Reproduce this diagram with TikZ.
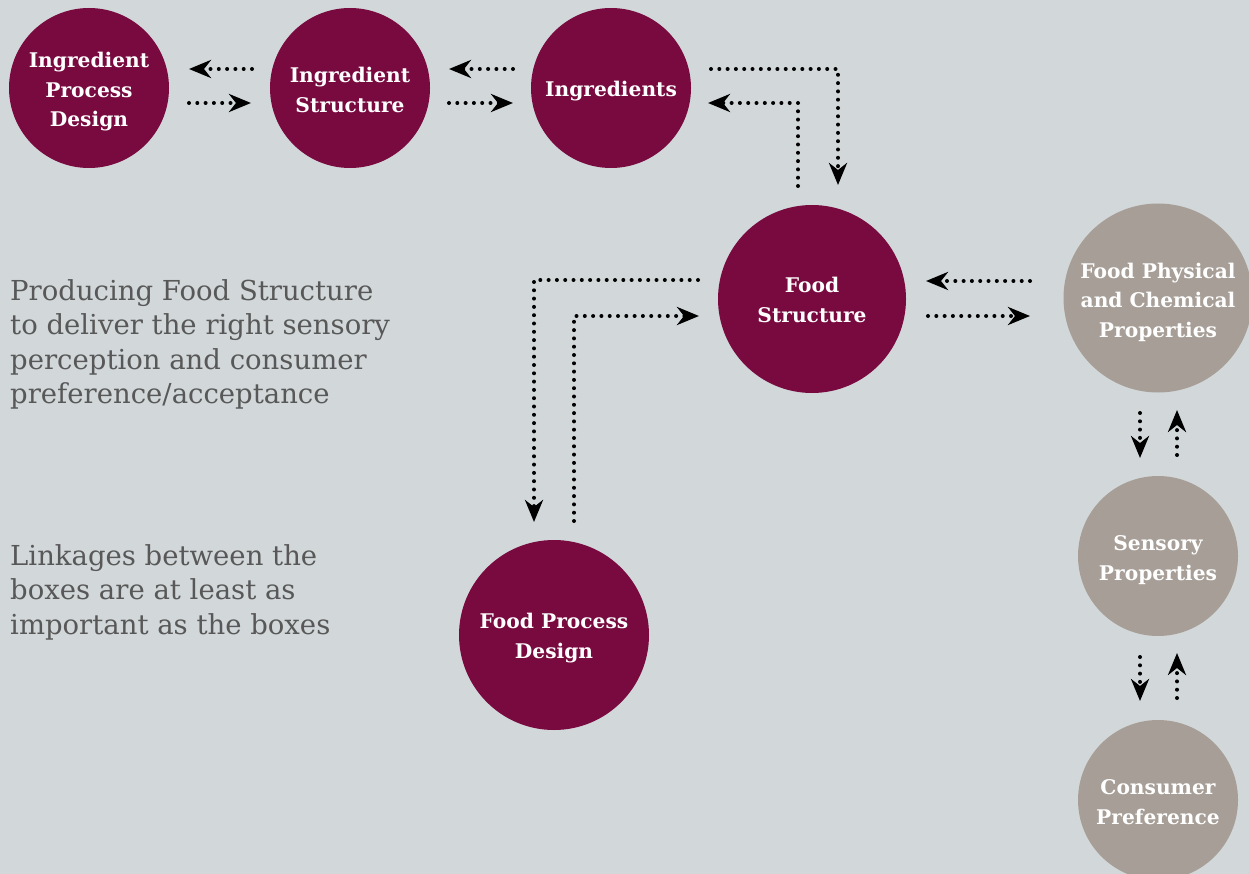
\documentclass[tikz,border=0pt]{standalone}
\usepackage{fontspec}
\setmainfont{DejaVu Serif}
\usetikzlibrary{arrows.meta,calc}
\definecolor{bg}{HTML}{D2D8DA}
\definecolor{maroon}{HTML}{780A40}
\definecolor{taupe}{HTML}{A79F97}
\definecolor{txt}{HTML}{585858}
\begin{document}
\begin{tikzpicture}[x=1pt,y=-1pt,
  circ/.style={circle, fill=maroon, inner sep=0pt, minimum size=160pt},
  gcirc/.style={circ, fill=taupe},
  lbl/.style={text=white, font=\bfseries\fontsize{20.2}{29.5}\selectfont, align=center, inner sep=0pt},
  link/.style={line width=4pt, dash pattern=on 0pt off 8.3pt, line cap=round, -{Stealth[length=22pt,width=18pt,inset=7pt]}},
  note/.style={text=txt, font=\fontsize{27.5}{34.5}\selectfont, align=left, anchor=north west, inner sep=0pt}
]
\fill[bg] (0,0) rectangle (1249,874);
\useasboundingbox (0,0) rectangle (1249,874);
\clip (0,0) rectangle (1249,874);

\node[circ] (ipd) at (89,88) {};
\node[circ] (is) at (350,88) {};
\node[circ] (ing) at (611,88) {};
\node[circ, minimum size=188pt] (fs) at (812,299) {};
\node[circ, minimum size=190pt] (fpd) at (554,635) {};
\node[gcirc, minimum size=189pt] (fpc) at (1158,298) {};
\node[gcirc] (sp) at (1158,556) {};
\node[gcirc] (cp) at (1158,800) {};

\node[lbl] (ipdL) at ($(ipd)+(0,4)$) {Ingredient\\Process\\Design};
\node[lbl] (isL) at ($(is)+(0,2)$) {Ingredient\\Structure};
\node[lbl] (ingL) at ($(ing)+(0,3)$) {Ingredients};
\node[lbl] (fsL) at ($(fs)+(0,1)$) {Food\\Structure};
\node[lbl] (fpdL) at ($(fpd)+(0,3)$) {Food Process\\Design};
\node[lbl] (fpcL) at ($(fpc)+(0,4)$) {Food Physical\\and Chemical\\Properties};
\node[lbl] (spL) at ($(sp)+(0,4)$) {Sensory\\Properties};
\node[lbl] (cpL) at ($(cp)+(0,2)$) {Consumer\\Preference};

\node[note] (t1) at (10,279) {Producing Food Structure\\to deliver the right sensory\\perception and consumer\\preference/acceptance};
\node[note] (t2) at (10,544) {Linkages between the\\boxes are at least as\\important as the boxes};

% coordinates for connector ends
\coordinate (a1s) at (252,69); \coordinate (a1e) at (189,69);
\coordinate (b1s) at (189,103); \coordinate (b1e) at (251,103);
\coordinate (a2s) at (513,69); \coordinate (a2e) at (449,69);
\coordinate (b2s) at (449,103); \coordinate (b2e) at (513,103);
\coordinate (c1s) at (711,69); \coordinate (c1m) at (838,69); \coordinate (c1e) at (838,185);
\coordinate (c2s) at (798,186); \coordinate (c2m) at (798,103); \coordinate (c2e) at (708,103);
\coordinate (d1s) at (1030,281); \coordinate (d1e) at (926,281);
\coordinate (d2s) at (928,316); \coordinate (d2e) at (1030,316);
\coordinate (e1s) at (698,280); \coordinate (e1m) at (534,280); \coordinate (e1e) at (534,522);
\coordinate (e2s) at (574,521); \coordinate (e2m) at (574,316); \coordinate (e2e) at (699,316);
\coordinate (f1s) at (1140,413); \coordinate (f1e) at (1140,458);
\coordinate (f2s) at (1177,455); \coordinate (f2e) at (1177,410);
\coordinate (g1s) at (1140,657); \coordinate (g1e) at (1140,701);
\coordinate (g2s) at (1177,698); \coordinate (g2e) at (1177,653);

\draw[link] (a1s) -- (a1e);
\draw[link] (b1s) -- (b1e);
\draw[link] (a2s) -- (a2e);
\draw[link] (b2s) -- (b2e);
\draw[link] (c1s) -- (c1m) -- (c1e);
\draw[link] (c2s) -- (c2m) -- (c2e);
\draw[link] (d1s) -- (d1e);
\draw[link] (d2s) -- (d2e);
\draw[link] (e1s) -- (e1m) -- (e1e);
\draw[link] (e2s) -- (e2m) -- (e2e);
\draw[link] (f1s) -- (f1e);
\draw[link] (f2s) -- (f2e);
\draw[link] (g1s) -- (g1e);
\draw[link] (g2s) -- (g2e);
\end{tikzpicture}
\end{document}
